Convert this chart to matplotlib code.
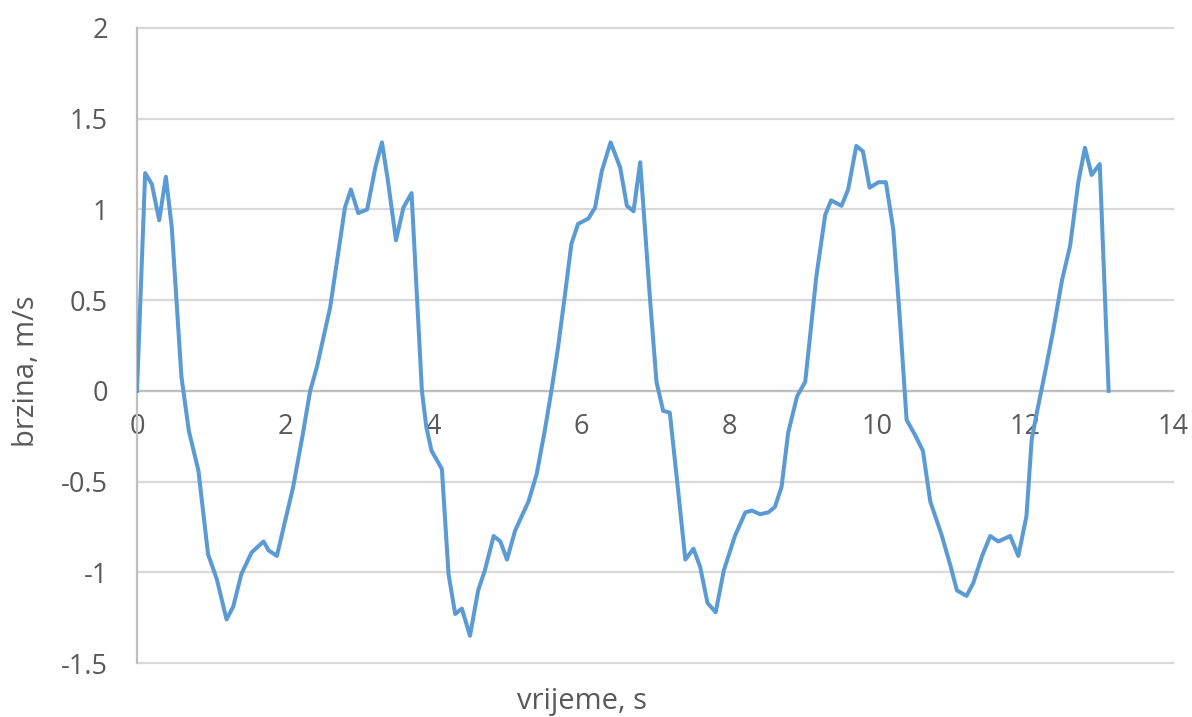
import matplotlib
matplotlib.use("Agg")
import matplotlib.pyplot as plt

time_s = [0, 0.11, 0.20, 0.30, 0.39, 0.47, 0.60, 0.70, 0.83, 0.96,
          1.08, 1.21, 1.30, 1.41, 1.55, 1.71, 1.78, 1.89, 2.11, 2.24,
          2.34, 2.43, 2.61, 2.81, 2.89, 2.99, 3.11, 3.22, 3.31, 3.39,
          3.50, 3.60, 3.71, 3.85, 3.91, 3.98, 4.12, 4.21, 4.30, 4.39,
          4.50, 4.61, 4.70, 4.82, 4.91, 5.00, 5.11, 5.29, 5.40, 5.51,
          5.60, 5.69, 5.78, 5.87, 5.96, 6.10, 6.19, 6.28, 6.40, 6.53,
          6.62, 6.71, 6.80, 6.93, 7.02, 7.11, 7.20, 7.31, 7.41, 7.52,
          7.61, 7.71, 7.82, 7.93, 8.08, 8.22, 8.31, 8.42, 8.53, 8.62,
          8.71, 8.80, 8.92, 9.03, 9.09, 9.18, 9.30, 9.38, 9.52, 9.61,
          9.72, 9.81, 9.90, 10.02, 10.12, 10.22, 10.31, 10.40, 10.51, 10.62,
          10.72, 10.87, 10.99, 11.08, 11.21, 11.30, 11.42, 11.53, 11.64, 11.80,
          11.91, 12.02, 12.09, 12.16, 12.27, 12.38, 12.50, 12.61, 12.72, 12.81,
          12.90, 13.01, 13.13]

speed = [0, 1.20, 1.14, 0.94, 1.18, 0.90, 0.08, -0.22, -0.44, -0.90,
         -1.04, -1.26, -1.19, -1.01, -0.89, -0.83, -0.88, -0.91, -0.53, -0.24,
         0.0, 0.13, 0.46, 1.01, 1.11, 0.98, 1.00, 1.23, 1.37, 1.16,
         0.83, 1.01, 1.09, 0.0, -0.20, -0.33, -0.43, -1.01, -1.23, -1.20,
         -1.35, -1.10, -0.99, -0.80, -0.83, -0.93, -0.77, -0.61, -0.46, -0.22,
         0.0, 0.24, 0.52, 0.81, 0.92, 0.95, 1.01, 1.21, 1.37, 1.23,
         1.02, 0.99, 1.26, 0.52, 0.05, -0.11, -0.12, -0.54, -0.93, -0.87,
         -0.97, -1.17, -1.22, -0.99, -0.80, -0.67, -0.66, -0.68, -0.67, -0.64,
         -0.53, -0.23, -0.03, 0.05, 0.28, 0.63, 0.97, 1.05, 1.02, 1.11,
         1.35, 1.32, 1.12, 1.15, 1.15, 0.89, 0.39, -0.16, -0.24, -0.33,
         -0.61, -0.79, -0.96, -1.10, -1.13, -1.06, -0.91, -0.80, -0.83, -0.80,
         -0.91, -0.69, -0.27, -0.12, 0.10, 0.33, 0.61, 0.80, 1.15, 1.34,
         1.19, 1.25, 0.0]

x_ticks = [0, 2, 4, 6, 8, 10, 12, 14]
y_ticks = [-1.5, -1, -0.5, 0, 0.5, 1, 1.5, 2]
y_ticklabels = ["-1.5", "-1", "-0.5", "0", "0.5", "1", "1.5", "2"]

plt.rcParams['font.family'] = ['Open Sans', 'DejaVu Sans']
plt.rcParams['axes.unicode_minus'] = False

W, H = 1192, 717
fig = plt.figure(figsize=(W / 100, H / 100), dpi=100)
ax = fig.add_axes([137 / W, 1 - 663 / H, (1173 - 137) / W, (663 - 28) / H])

ax.plot(time_s, speed, color='#5B9BD5', linewidth=2.9, solid_joinstyle='round', zorder=3)

ax.set_xlim(0, 14)
ax.set_ylim(-1.5, 2)
ax.set_xticks(x_ticks)
ax.set_yticks(y_ticks)
ax.set_yticklabels(y_ticklabels)

ax.grid(axis='y', color='#D9D9D9', linewidth=1.6, zorder=0)
ax.grid(axis='x', visible=False)
for gl in ax.get_ygridlines():
    gl.set_clip_on(False)

for s in ['top', 'right']:
    ax.spines[s].set_visible(False)
ax.spines['left'].set_color('#BFBFBF')
ax.spines['left'].set_linewidth(1.6)
ax.spines['bottom'].set_position(('data', 0))
ax.spines['bottom'].set_color('#BFBFBF')
ax.spines['bottom'].set_linewidth(1.6)

ax.tick_params(axis='y', length=0, pad=21, labelsize=19.5, labelcolor='#595959')
ax.tick_params(axis='x', length=0, pad=16, labelsize=19.5, labelcolor='#595959')

fig.text(27 / W, 1 - 371 / H, 'brzina, m/s', rotation=90, ha='center', va='center',
         fontsize=21, color='#595959')
fig.text(582 / W, 1 - 701 / H, 'vrijeme, s', ha='center', va='center',
         fontsize=21, color='#595959')

fig.savefig('out.png', dpi=100, facecolor='white')
